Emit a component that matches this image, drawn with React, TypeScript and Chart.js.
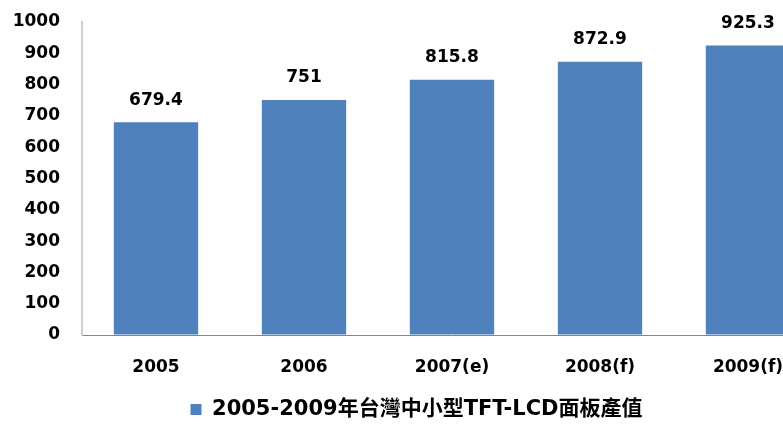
import React, { useEffect, useRef } from "react";
import { Chart, registerables } from "chart.js";

Chart.register(...registerables);

const categories = ["2005", "2006", "2007(e)", "2008(f)", "2009(f)"];
const values = [679.4, 751, 815.8, 872.9, 925.3];
const valueLabels = ["679.4", "751", "815.8", "872.9", "925.3"];
const seriesName = "2005-2009年台灣中小型TFT-LCD面板產值";

const FONT = "'DejaVu Sans', 'Noto Sans CJK TC', sans-serif";

const valueLabelPlugin = {
  id: "valueLabels",
  afterDatasetsDraw(chart: any) {
    const ctx = chart.ctx;
    const meta = chart.getDatasetMeta(0);
    ctx.save();
    ctx.font = `bold 17px ${FONT}`;
    ctx.fillStyle = "#000000";
    ctx.textAlign = "center";
    ctx.textBaseline = "middle";
    meta.data.forEach((bar: any, i: number) => {
      ctx.fillText(valueLabels[i], bar.x, bar.y - 22);
    });
    ctx.restore();
  },
};

export default function App() {
  const ref = useRef<HTMLCanvasElement>(null);
  useEffect(() => {
    const chart = new Chart(ref.current!, {
      type: "bar",
      data: {
        labels: categories,
        datasets: [
          {
            label: seriesName,
            data: values,
            backgroundColor: "#4F81BD",
            borderWidth: 0,
            barPercentage: 0.57,
            categoryPercentage: 1,
          },
        ],
      },
      options: {
        responsive: false,
        animation: false,
        layout: { padding: { left: 11, right: 8, top: 0, bottom: 0 } },
        plugins: {
          tooltip: { enabled: false },
          legend: {
            position: "bottom",
            labels: {
              boxWidth: 11,
              boxHeight: 11,
              padding: 6,
              color: "#000000",
              font: { family: FONT, size: 21, weight: "bold" },
            },
          },
        },
        scales: {
          x: {
            grid: {
              display: true,
              drawOnChartArea: false,
              drawTicks: true,
              tickLength: 8,
              color: "rgba(0,0,0,0)",
            },
            border: { color: "#868686", width: 1 },
            ticks: {
              padding: 14.8,
              color: "#000000",
              font: { family: FONT, size: 17, weight: "bold" },
            },
          },
          y: {
            min: 0,
            max: 1000,
            afterFit: (scale: any) => {
              scale.width = 71;
            },
            grid: {
              display: true,
              drawOnChartArea: false,
              drawTicks: true,
              tickLength: 10.2,
              color: "rgba(0,0,0,0)",
            },
            border: { color: "#d0d0d0", width: 2 },
            ticks: {
              stepSize: 100,
              padding: 11.8,
              color: "#000000",
              font: { family: FONT, size: 17, weight: "bold" },
              callback: (v: any) => String(v),
            },
          },
        },
      },
      plugins: [valueLabelPlugin],
    });
    return () => chart.destroy();
  }, []);
  return (
    <div
      style={{
        position: "fixed",
        left: 0,
        top: 0,
        width: 783,
        height: 430,
        overflow: "hidden",
        background: "#ffffff",
      }}
    >
      <canvas ref={ref} width={830} height={430} style={{ display: "block" }} />
    </div>
  );
}
